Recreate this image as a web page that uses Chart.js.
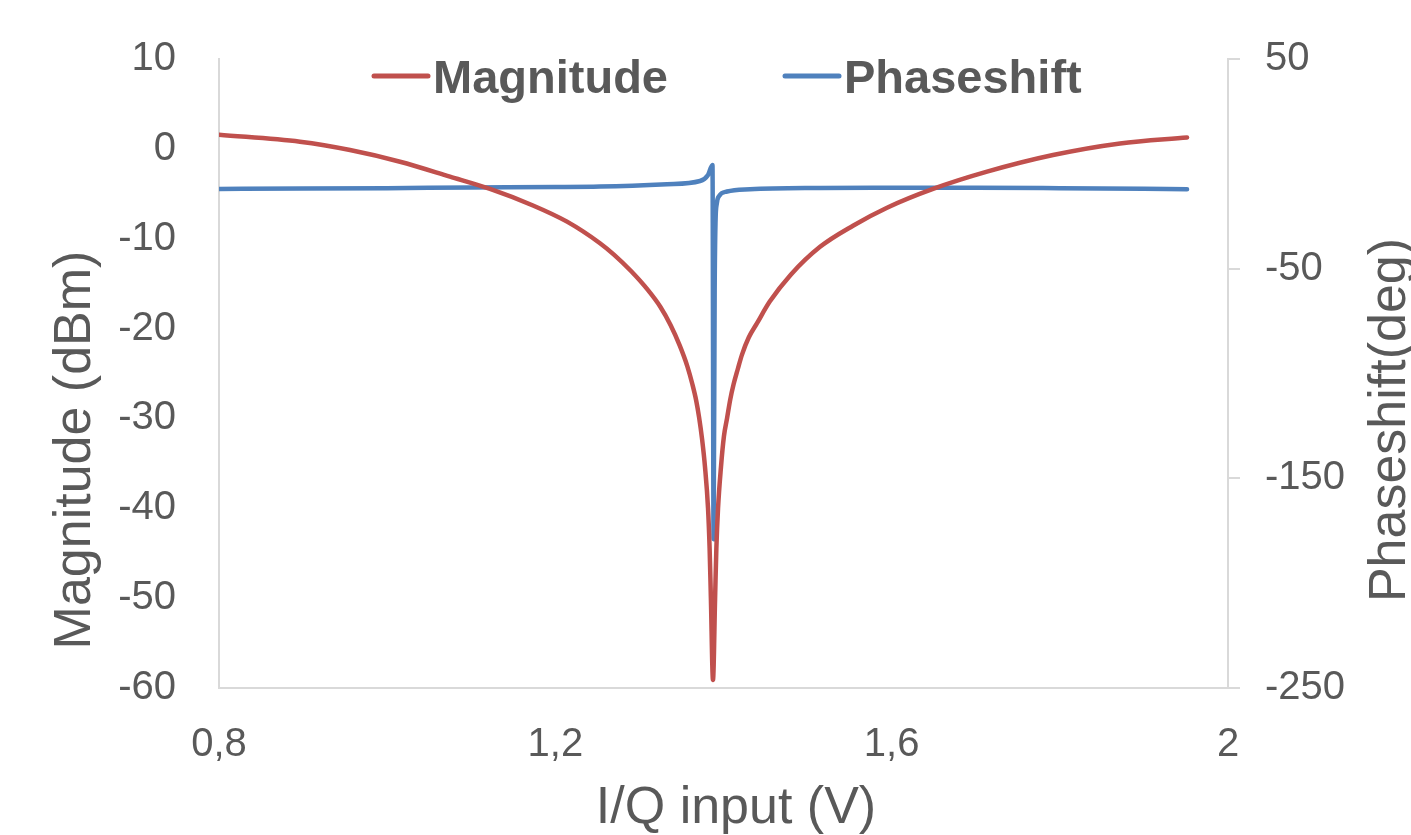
<!DOCTYPE html>
<html>
<head>
<meta charset="utf-8">
<script src="https://cdn.jsdelivr.net/npm/chart.js@4.4.1/dist/chart.umd.min.js"></script>
<style>
  html, body { margin: 0; padding: 0; background: #fff; }
  #wrap { width: 1411px; height: 835px; }
</style>
</head>
<body>
<div id="wrap"><canvas id="chart" width="1411" height="835"></canvas></div>
<script>
// values
const magX = [0.80, 0.8963, 0.9558, 1.0153, 1.0747, 1.1223, 1.1734, 1.2139, 1.2531, 1.27, 1.29, 1.31,
  1.325, 1.337, 1.348, 1.357, 1.363, 1.3675, 1.371, 1.3745, 1.378, 1.3816, 1.3835, 1.385, 1.3875,
  1.39, 1.3915, 1.3935, 1.397, 1.4005, 1.4042, 1.408, 1.412, 1.417, 1.422, 1.43, 1.4399, 1.455, 1.48,
  1.5148, 1.554, 1.5945, 1.6492, 1.7134, 1.7919, 1.8716, 1.9513];
const magY = [1.57, 0.79, -0.13, -1.43, -3.09, -4.46, -6.3, -8.1, -10.5, -11.8, -13.6, -15.7,
  -17.6, -19.6, -21.9, -24.2, -26.2, -28.0, -29.9, -32.3, -35.4, -40, -44.5, -50, -59.1,
  -50, -44.5, -40, -35.4, -32.0, -30, -27.9, -26.2, -24.5, -22.9, -21.0, -19.4, -17.0, -14.0,
  -10.9, -8.55, -6.55, -4.46, -2.54, -0.69, 0.6, 1.27];

const phaseX = [0.80, 0.90, 1.00, 1.10, 1.20, 1.2531, 1.3328, 1.3721, 1.3816, 1.3869, 1.3882,
  1.3895, 1.3905, 1.392, 1.3945, 1.4042, 1.4315, 1.5148, 1.60, 1.70, 1.80, 1.90, 1.9513];
const phaseY = [-11.95, -11.8, -11.6, -11.3, -11.1, -10.86, -9.75, -8.2, -5.3, -0.5, -179,
  -60, -28, -19, -15.5, -13.2, -12.1, -11.5, -11.4, -11.4, -11.6, -11.9, -12.1];

const xTickValues = [0.8, 1.2, 1.6, 2];
const labels = ['Magnitude', 'Phaseshift'];
const colors = ['#c0504d', '#4f81bd'];

const textColor = '#595959';
const axisColor = '#d9d9d9';
const family = '"Liberation Sans", Arial, sans-serif';

const toPoints = (xs, ys) => xs.map((x, i) => ({ x: x, y: ys[i] }));

// legend and axis titles drawn by hand to match the spacing of the original
const decorations = {
  id: 'decorations',
  afterDraw(chart) {
    const ctx = chart.ctx;
    ctx.save();
    ctx.fillStyle = textColor;

    // legend
    const legendX = [374, 785];
    ctx.font = 'bold 47px ' + family;
    ctx.textBaseline = 'alphabetic';
    ctx.textAlign = 'left';
    chart.data.datasets.forEach((ds, i) => {
      ctx.strokeStyle = ds.borderColor;
      ctx.lineWidth = 5;
      ctx.lineCap = 'round';
      ctx.beginPath();
      ctx.moveTo(legendX[i], 76);
      ctx.lineTo(legendX[i] + 54, 76);
      ctx.stroke();
      ctx.fillText(ds.label, legendX[i] + 59, 93);
    });

    // axis titles
    ctx.font = '52px ' + family;
    ctx.textAlign = 'center';
    ctx.fillText('I/Q input (V)', 736, 823);

    ctx.save();
    ctx.translate(90, 450);
    ctx.rotate(-Math.PI / 2);
    ctx.fillText('Magnitude (dBm)', 0, 0);
    ctx.restore();

    ctx.save();
    ctx.translate(1405, 420);
    ctx.rotate(-Math.PI / 2);
    ctx.fillText('Phaseshift(deg)', 0, 0);
    ctx.restore();

    ctx.restore();
  }
};

new Chart(document.getElementById('chart'), {
  type: 'line',
  data: {
    datasets: [
      {
        label: labels[0],
        data: toPoints(magX, magY),
        borderColor: colors[0],
        backgroundColor: colors[0],
        borderWidth: 4.5,
        pointRadius: 0,
        cubicInterpolationMode: 'monotone',
        borderCapStyle: 'round',
        yAxisID: 'yMag'
      },
      {
        label: labels[1],
        data: toPoints(phaseX, phaseY),
        borderColor: colors[1],
        backgroundColor: colors[1],
        borderWidth: 4.5,
        pointRadius: 0,
        cubicInterpolationMode: 'monotone',
        borderCapStyle: 'round',
        yAxisID: 'yPhase'
      }
    ]
  },
  options: {
    responsive: false,
    animation: false,
    devicePixelRatio: 1,
    layout: { padding: { top: 57, left: 0, right: 0, bottom: 0 } },
    plugins: {
      legend: { display: false },
      tooltip: { enabled: false }
    },
    scales: {
      x: {
        type: 'linear',
        position: 'bottom',
        min: 0.8,
        max: 2,
        afterBuildTicks: (scale) => { scale.ticks = xTickValues.map(v => ({ value: v })); },
        ticks: {
          color: textColor,
          font: { family: family, size: 40 },
          padding: 25,
          maxRotation: 0,
          callback: (v) => String(Math.round(v * 10) / 10).replace('.', ',')
        },
        grid: { display: false },
        border: { display: true, color: axisColor, width: 2 },
        afterFit: (scale) => { scale.height = 147; }
      },
      yMag: {
        type: 'linear',
        position: 'left',
        min: -60,
        max: 10,
        ticks: {
          stepSize: 10,
          color: textColor,
          font: { family: family, size: 40 },
          padding: 35
        },
        grid: { display: false },
        border: { display: true, color: axisColor, width: 2 },
        afterFit: (scale) => { scale.width = 219; }
      },
      yPhase: {
        type: 'linear',
        position: 'right',
        min: -250,
        max: 50,
        ticks: {
          stepSize: 100,
          color: textColor,
          font: { family: family, size: 40 },
          padding: 25
        },
        grid: {
          display: true,
          drawOnChartArea: false,
          drawTicks: true,
          tickLength: 12,
          color: axisColor,
          lineWidth: 2
        },
        border: { display: true, color: axisColor, width: 2 },
        afterFit: (scale) => { scale.width = 183; }
      }
    }
  },
  plugins: [decorations]
});
</script>
</body>
</html>
